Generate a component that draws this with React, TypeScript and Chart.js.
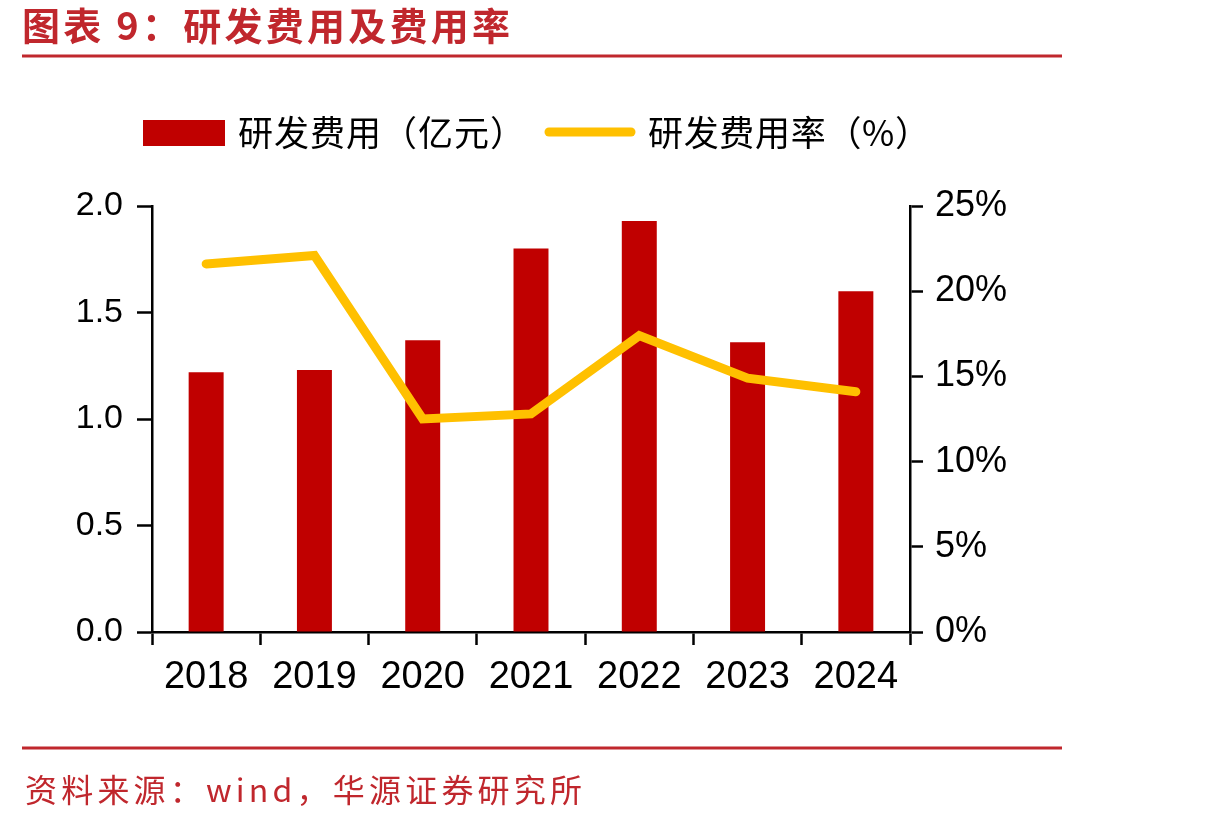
import React, { useEffect, useRef } from "react";
import { Chart, registerables } from "chart.js";

Chart.register(...registerables);

// Yearly R&D spend (100 million yuan) and R&D spend as a share of revenue (%)
const years = ["2018", "2019", "2020", "2021", "2022", "2023", "2024"];
const rdExpense = [1.22, 1.23, 1.37, 1.8, 1.93, 1.36, 1.6];
const rdRatio = [21.6, 22.1, 12.5, 12.8, 17.4, 14.9, 14.1];
const leftTicks = [0, 0.5, 1.0, 1.5, 2.0];
const rightTicks = [0, 5, 10, 15, 20, 25];

const titleText = "图表 9：研发费用及费用率";
const sourceText = "资料来源：wind，华源证券研究所";
const legendBar = "研发费用（亿元）";
const legendLine = "研发费用率（%）";

const RED = "#C00000";
const GOLD = "#FFC000";
const HEAD_RED = "#C0272D";
const NUM_FONT = "'Liberation Sans', Arial, sans-serif";
const CJK_FONT = "'Noto Sans CJK SC', sans-serif";

function fitText(ctx: CanvasRenderingContext2D, text: string, x: number, y: number, width: number) {
  (ctx as any).letterSpacing = "0px";
  const w = ctx.measureText(text).width;
  const n = Array.from(text).length;
  const sp = n > 1 ? (width - w) / (n - 1) : 0;
  (ctx as any).letterSpacing = sp + "px";
  ctx.fillText(text, x, y);
  (ctx as any).letterSpacing = "0px";
}

const decorations = {
  id: "decorations",
  afterDraw(chart: any) {
    const ctx: CanvasRenderingContext2D = chart.ctx;
    ctx.save();
    // heading
    ctx.fillStyle = HEAD_RED;
    ctx.textBaseline = "middle";
    ctx.textAlign = "left";
    ctx.font = `bold 38px ${CJK_FONT}`;
    fitText(ctx, titleText, 22, 26, 488);
    // rules
    ctx.strokeStyle = HEAD_RED;
    ctx.lineWidth = 3;
    ctx.beginPath();
    ctx.moveTo(22, 56);
    ctx.lineTo(1062, 56);
    ctx.moveTo(22, 748);
    ctx.lineTo(1062, 748);
    ctx.stroke();
    // source note
    ctx.font = `32px ${CJK_FONT}`;
    fitText(ctx, sourceText, 25, 790, 557);

    // legend
    ctx.fillStyle = RED;
    ctx.fillRect(143, 120, 82, 26);
    ctx.fillStyle = "#000";
    ctx.font = `35px ${CJK_FONT}`;
    fitText(ctx, legendBar, 238, 133, 287);
    ctx.strokeStyle = GOLD;
    ctx.lineWidth = 9;
    ctx.lineCap = "round";
    ctx.beginPath();
    ctx.moveTo(549, 132);
    ctx.lineTo(631, 132);
    ctx.stroke();
    fitText(ctx, legendLine, 648, 133, 282);
    ctx.restore();
  },
};

export default function App() {
  const ref = useRef<HTMLCanvasElement>(null);

  useEffect(() => {
    document.body.style.margin = "0";
    const canvas = ref.current!;
    const chart = new Chart(canvas, {
      type: "bar",
      data: {
        labels: years,
        datasets: [
          {
            type: "line",
            label: legendLine,
            data: rdRatio,
            yAxisID: "y1",
            borderColor: GOLD,
            backgroundColor: GOLD,
            borderWidth: 9,
            borderCapStyle: "round",
            borderJoinStyle: "miter",
            pointRadius: 0,
            tension: 0,
            order: 0,
          },
          {
            type: "bar",
            label: legendBar,
            data: rdExpense,
            yAxisID: "y",
            backgroundColor: RED,
            categoryPercentage: 1,
            barPercentage: 0.323,
            order: 1,
          },
        ],
      },
      options: {
        responsive: false,
        animation: false,
        devicePixelRatio: 1,
        layout: { padding: { top: 206, left: 0, right: 0, bottom: 0 } },
        plugins: {
          legend: { display: false },
          tooltip: { enabled: false },
        },
        scales: {
          x: {
            offset: true,
            grid: {
              offset: true,
              drawOnChartArea: false,
              drawTicks: true,
              tickLength: 13,
              tickWidth: 2.5,
              tickColor: "#000",
            },
            border: { display: true, color: "#000", width: 2.5 },
            ticks: {
              color: "#000",
              font: { family: NUM_FONT, size: 38 },
              padding: 10,
              maxRotation: 0,
            },
            afterFit(scale: any) {
              scale.height = 189;
            },
          },
          y: {
            position: "left",
            min: 0,
            max: 2,
            afterBuildTicks(scale: any) {
              scale.ticks = leftTicks.map((v) => ({ value: v }));
            },
            grid: {
              drawOnChartArea: false,
              tickLength: 15,
              tickWidth: 2.5,
              tickColor: "#000",
            },
            border: { display: true, color: "#000", width: 2.5 },
            ticks: {
              color: "#000",
              font: { family: NUM_FONT, size: 34 },
              padding: 14,
              callback: (v: any) => Number(v).toFixed(1),
            },
            afterFit(scale: any) {
              scale.width = 152;
            },
          },
          y1: {
            position: "right",
            min: 0,
            max: 25,
            afterBuildTicks(scale: any) {
              scale.ticks = rightTicks.map((v) => ({ value: v }));
            },
            grid: {
              drawOnChartArea: false,
              tickLength: 13,
              tickWidth: 2.5,
              tickColor: "#000",
            },
            border: { display: true, color: "#000", width: 2.5 },
            ticks: {
              color: "#000",
              font: { family: NUM_FONT, size: 36 },
              padding: 12,
              callback: (v: any) => `${v}%`,
            },
            afterFit(scale: any) {
              scale.width = 1219 - 910;
            },
          },
        },
      },
      plugins: [decorations],
    } as any);
    return () => chart.destroy();
  }, []);

  return (
    <div style={{ width: 1219, height: 821, background: "#fff" }}>
      <canvas ref={ref} width={1219} height={821} style={{ display: "block" }} />
    </div>
  );
}
